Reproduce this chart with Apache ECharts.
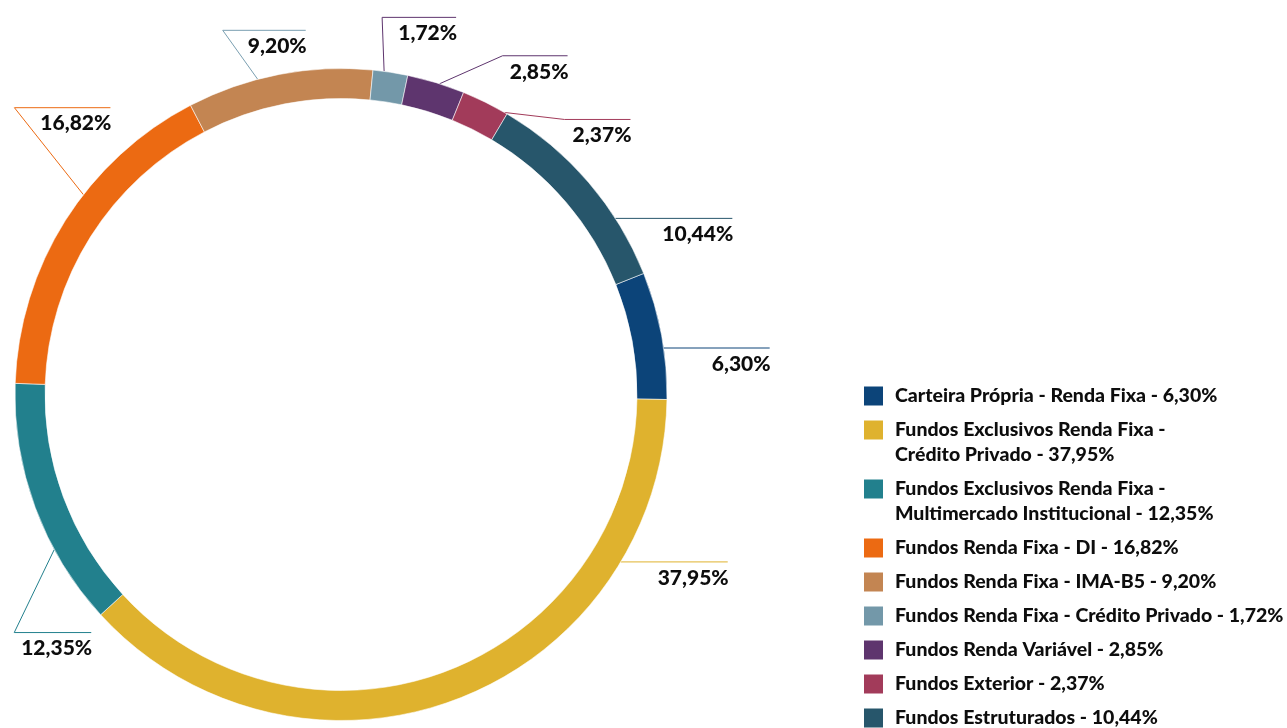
<!DOCTYPE html>
<html><head><meta charset="utf-8">
<script src="https://cdn.jsdelivr.net/npm/echarts@6/dist/echarts.min.js"></script>
<style>html,body{margin:0;padding:0;background:#fff}#c{width:1287px;height:728px}</style>
</head><body><div id="c"></div>
<script>
const categories = [
  'Carteira Própria - Renda Fixa',
  'Fundos Exclusivos Renda Fixa -\nCrédito Privado',
  'Fundos Exclusivos Renda Fixa -\nMultimercado Institucional',
  'Fundos Renda Fixa - DI',
  'Fundos Renda Fixa - IMA-B5',
  'Fundos Renda Fixa - Crédito Privado',
  'Fundos Renda Variável',
  'Fundos Exterior',
  'Fundos Estruturados'
];
const values = [6.30, 37.95, 12.35, 16.82, 9.20, 1.72, 2.85, 2.37, 10.44];
const colors = ['#0c4479', '#dfb22e', '#22808d', '#ec6a12', '#c38552', '#7398a9', '#5e356e', '#a23b5a', '#27566b'];
const leaderColors = ['#0c4479', '#dfb22e', '#22808d', '#ec6a12', '#7a9fb1', '#5e356e', '#5e356e', '#a23b5a', '#27566b'];
// leader line layout: [ring angle (deg, clockwise from east), elbow dx, elbow dy, underline length]
const leaderLayout = [
  [-8.2, 0, 0, 106], [30.9, 0, 0, 107], [151.6, -40, 83, 77], [217.8, -69, -87, 96],
  [255.2, -35, -49, 83], [277.6, -2, -54, 74], [287.6, 63, -28, 65], [300.1, 60, 7, 66], [327.3, 0, 0, 117]
];

const CX = 341, CY = 394.5, R_OUT = 326, R_IN = 296;
const fmt = v => v.toFixed(2).replace('.', ',') + '%';

const chart = echarts.init(document.getElementById('c'));
chart.setOption({
  animation: false,
  backgroundColor: '#ffffff',
  legend: {
    orient: 'vertical', left: 864, top: 386, height: 600, padding: 0,
    itemWidth: 19, itemHeight: 19, itemGap: 14, icon: 'rect',
    selectedMode: false,
    itemStyle: { borderWidth: 0 },
    textStyle: {
      color: '#0d0d0d', padding: [0, 0, 0, 7],
      rich: { t: { fontFamily: 'Lato', fontWeight: 900, fontSize: 19.5, color: '#0d0d0d', lineHeight: 25 } }
    },
    data: categories.map(n => n.indexOf('\n') >= 0 ? { name: n, textStyle: { padding: [25, 0, 0, 7] } } : { name: n }),
    formatter: name => (name + ' - ' + fmt(values[categories.indexOf(name)])).split('\n').map(s => '{t|' + s + '}').join('\n')
  },
  series: [{
    type: 'pie',
    center: [CX, CY],
    radius: [R_IN, R_OUT],
    startAngle: 21.8,
    clockwise: true,
    avoidLabelOverlap: false,
    emphasis: { disabled: true },
    itemStyle: { borderColor: 'rgba(255,255,255,0.7)', borderWidth: 0.8 },
    label: {
      show: true, position: 'outside',
      formatter: p => fmt(values[p.dataIndex]),
      fontFamily: 'Lato', fontWeight: 900, fontSize: 21, color: '#0d0d0d'
    },
    labelLine: { show: true, smooth: false, length: 10, length2: 10, lineStyle: { width: 1 } },
    labelLayout: function (p) {
      const L = leaderLayout[p.dataIndex];
      const a = L[0] * Math.PI / 180;
      const rx = CX + R_OUT * Math.cos(a), ry = CY + R_OUT * Math.sin(a);
      const ex = rx + L[1], ey = ry + L[2];
      const endX = ex + L[3];
      return {
        x: endX + 1, y: ey + 16, align: 'right', verticalAlign: 'middle',
        labelLinePoints: [[rx, ry], [ex, ey], [endX, ey]]
      };
    },
    data: categories.map((n, i) => ({
      name: n, value: values[i],
      itemStyle: { color: colors[i] },
      labelLine: { lineStyle: { color: leaderColors[i] } }
    }))
  }]
});
</script></body></html>
